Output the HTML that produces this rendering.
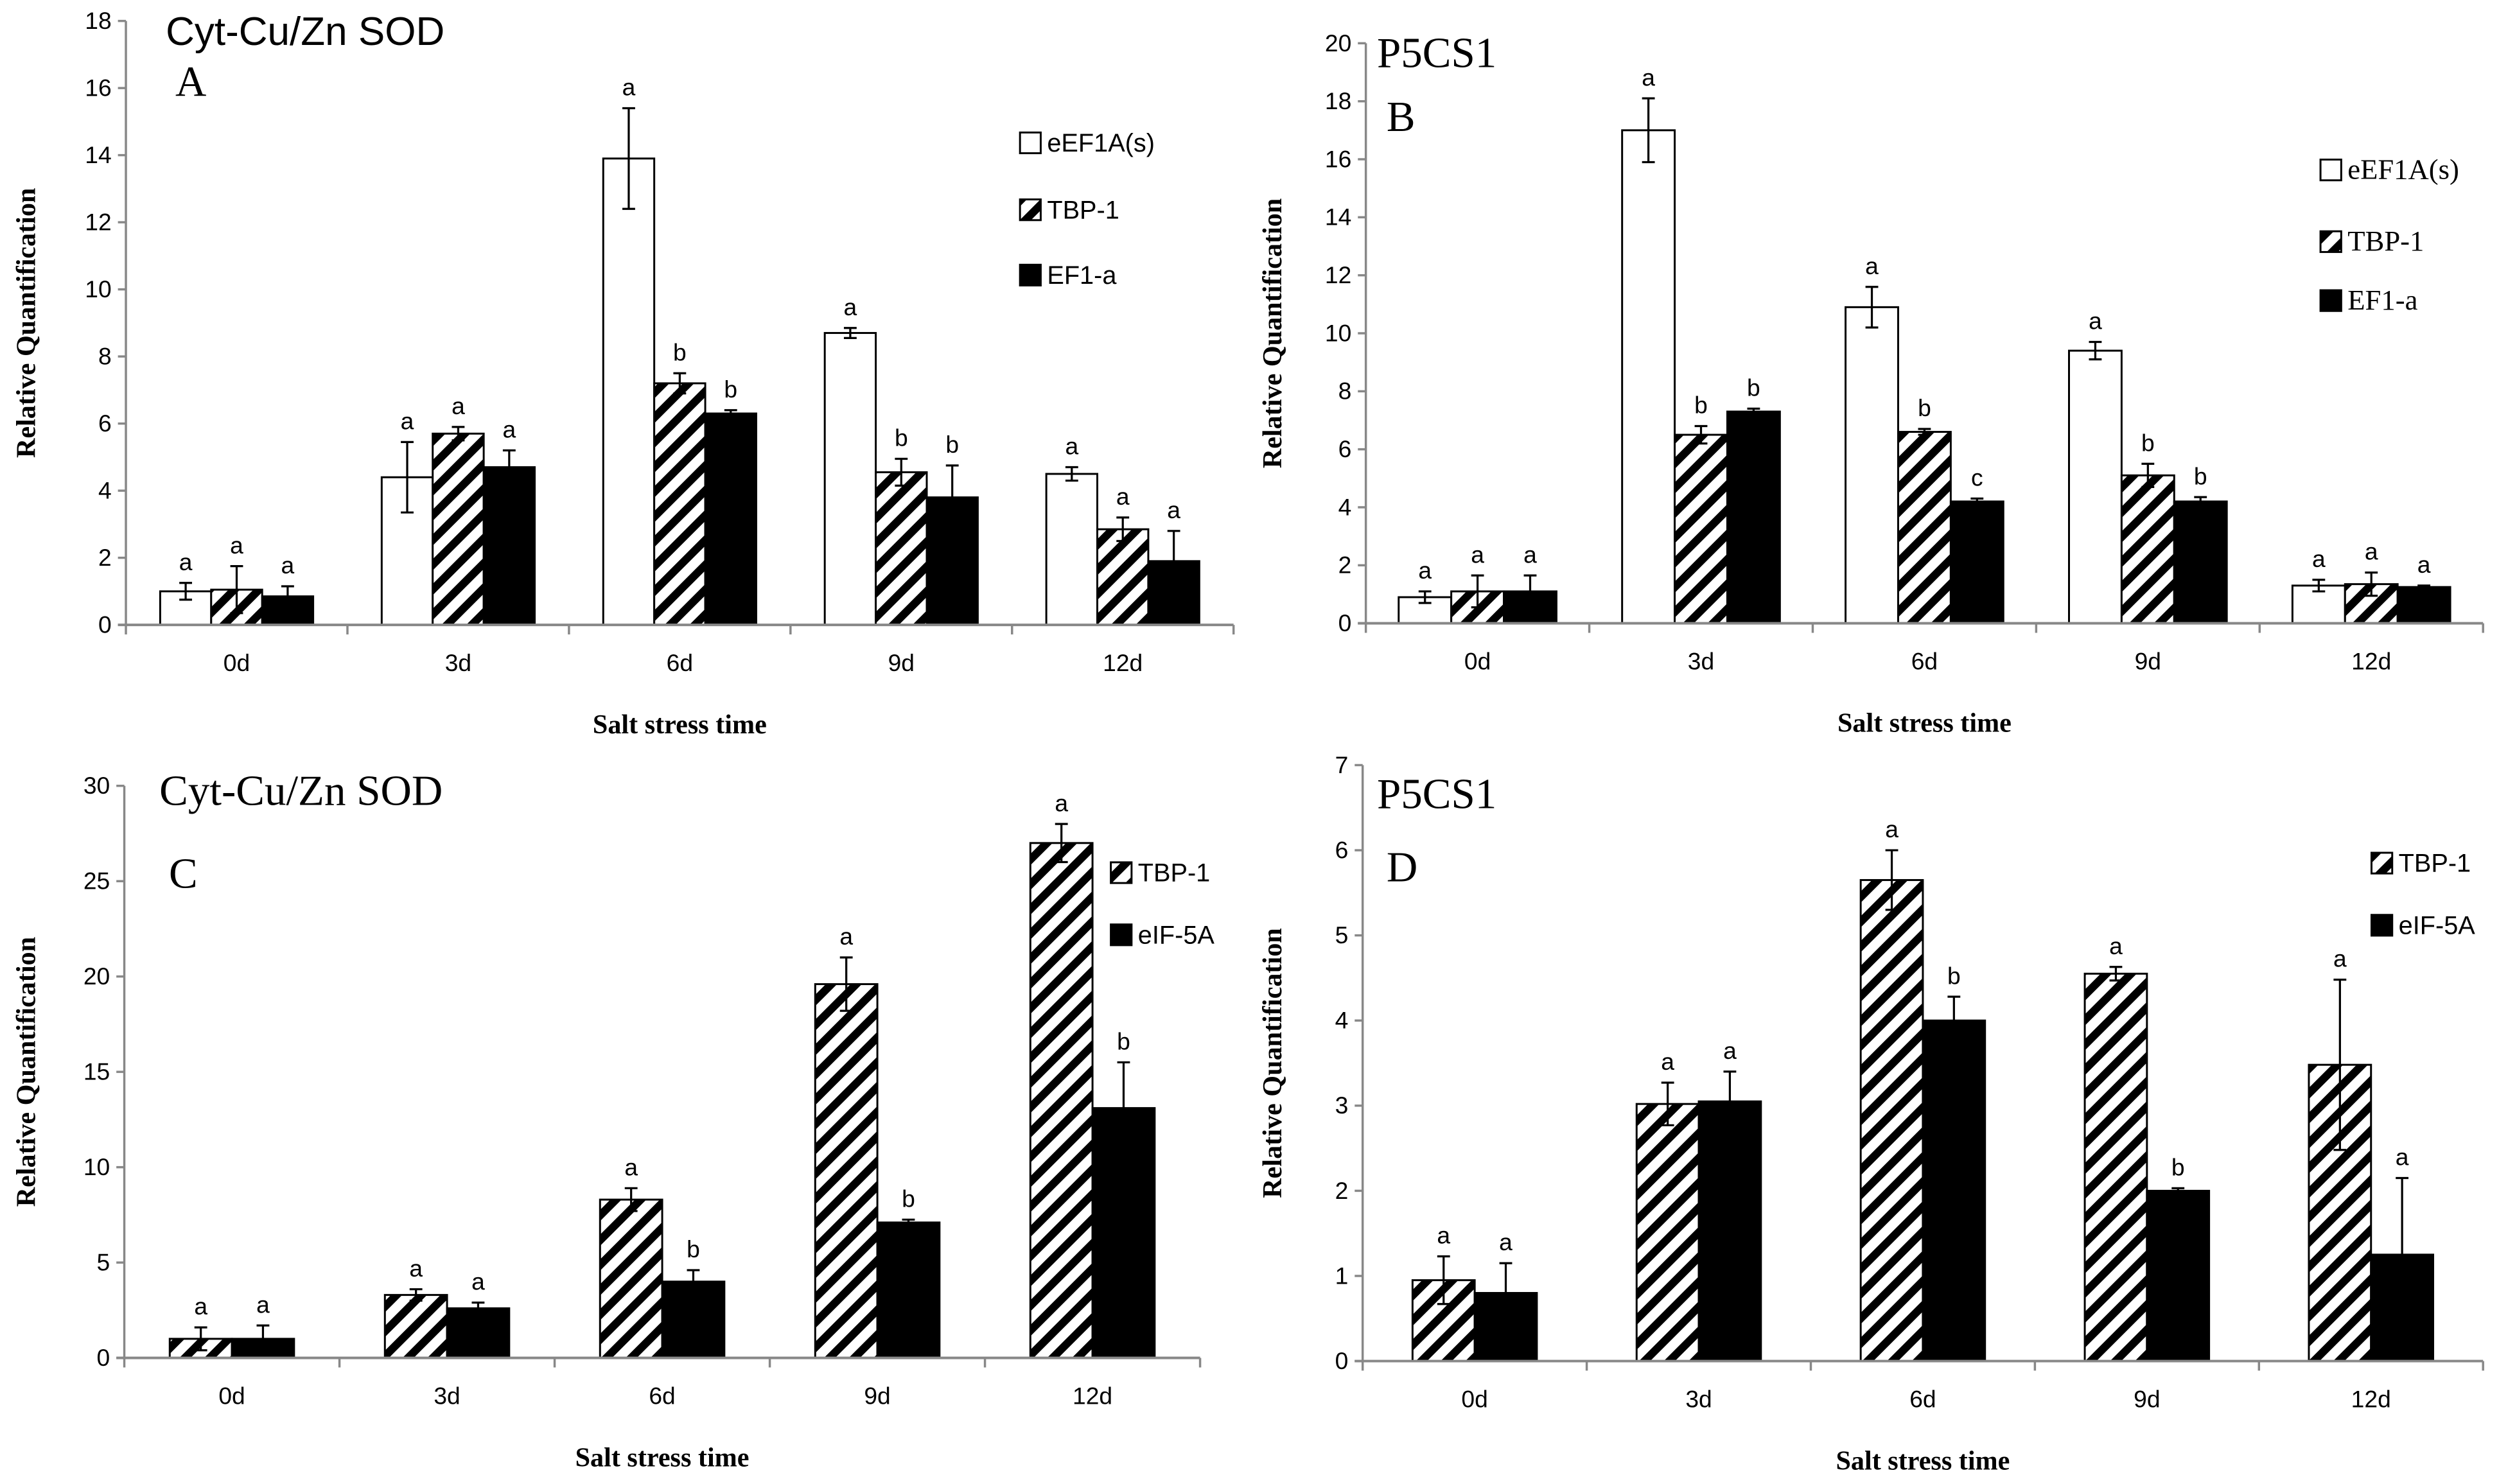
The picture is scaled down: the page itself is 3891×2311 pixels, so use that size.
<!DOCTYPE html>
<html><head><meta charset="utf-8"><style>
html,body{margin:0;padding:0;background:#fff}
svg{display:block}
.tk{font-family:"Liberation Sans",sans-serif;font-size:15px;fill:#000}
.ax{font-family:"Liberation Serif",serif;font-weight:bold;font-size:17px;fill:#000}
.tt{font-family:"Liberation Serif",serif;font-size:27px;fill:#000}
.lg{font-family:"Liberation Sans",sans-serif;font-size:16px;fill:#000}
</style></head><body>
<svg id="chart" width="3891" height="2311" viewBox="0 0 1568 931" xmlns="http://www.w3.org/2000/svg">
<defs>
<pattern id="hatch" patternUnits="userSpaceOnUse" width="11" height="11" patternTransform="rotate(45)">
<rect width="11" height="11" fill="#fff"/><rect width="5" height="11" fill="#000"/>
</pattern>
</defs>
</svg>
<script>
const categories=["0d","3d","6d","9d","12d"];
// Panel A
const aS1=[1.0,4.4,13.9,8.7,4.5], aE1=[0.25,1.05,1.5,0.15,0.2], aL1=["a","a","a","a","a"];
const aS2=[1.05,5.7,7.2,4.55,2.85], aE2=[0.7,0.2,0.3,0.4,0.35], aL2=["a","a","b","b","a"];
const aS3=[0.85,4.7,6.3,3.8,1.9], aE3=[0.3,0.5,0.1,0.95,0.9], aL3=["a","a","b","b","a"];
// Panel B
const bS1=[0.9,17,10.9,9.4,1.3], bE1=[0.2,1.1,0.7,0.3,0.2], bL1=["a","a","a","a","a"];
const bS2=[1.1,6.5,6.6,5.1,1.35], bE2=[0.55,0.3,0.1,0.4,0.4], bL2=["a","b","b","b","a"];
const bS3=[1.1,7.3,4.2,4.2,1.25], bE3=[0.55,0.1,0.1,0.15,0.05], bL3=["a","b","c","b","a"];
// Panel C
const cS1=[1,3.3,8.3,19.6,27], cE1=[0.6,0.3,0.6,1.4,1.0], cL1=["a","a","a","a","a"];
const cS2=[1,2.6,4.0,7.1,13.1], cE2=[0.7,0.3,0.6,0.15,2.4], cL2=["a","a","b","b","b"];
// Panel D
const dS1=[0.95,3.02,5.65,4.55,3.48], dE1=[0.28,0.25,0.35,0.08,1.0], dL1=["a","a","a","a","a"];
const dS2=[0.8,3.05,4.0,2.0,1.25], dE2=[0.35,0.35,0.28,0.03,0.9], dL2=["a","a","b","b","a"];
const ticksA=[0,2,4,6,8,10,12,14,16,18], ticksB=[0,2,4,6,8,10,12,14,16,18,20];
const ticksC=[0,5,10,15,20,25,30], ticksD=[0,1,2,3,4,5,6,7];

const svg=document.getElementById('chart');
const NS="http://www.w3.org/2000/svg";
function mk(tag,at,parent){const e=document.createElementNS(NS,tag);for(const k in at)e.setAttribute(k,at[k]);(parent||svg).appendChild(e);return e;}
function txt(s,at,parent){const e=mk('text',at,parent);e.textContent=s;return e;}
const AX='#888';

function panel(o){
  const g=mk('g',{});
  
  
  const y=v=>o.y0-(v/o.ymax)*(o.y0-o.ytop);
  const cw=(o.x1-o.x0)/categories.length;
  const x=i=>o.x0+cw*(i+0.5);
  const n=o.series.length, bw=o.bw;
  o.series.forEach((s,si)=>{
    s.vals.forEach((v,i)=>{
      const bx=x(i)-n*bw/2+si*bw;
      const r=mk('rect',{x:bx,y:y(v),width:bw,height:o.y0-y(v),fill:s.fill,stroke:'#000','stroke-width':1.2},g);
      
      
      const cx=bx+bw/2, e=s.err[i];
      mk('path',{d:`M${cx},${y(v+e)}V${y(Math.max(0,v-e))}M${cx-4},${y(v+e)}H${cx+4}M${cx-4},${y(Math.max(0,v-e))}H${cx+4}`,stroke:'#000','stroke-width':1.3,fill:'none'},g);
      const l=txt(s.lab[i],{x:cx,y:y(v+e)-8,'text-anchor':'middle',class:'tk'},g);
      
    });
  });
  const ya=mk('line',{x1:o.x0,y1:o.ytop,x2:o.x0,y2:o.y0,stroke:AX,'stroke-width':1.4},g);
  
  o.ticks.forEach(t=>{
    mk('line',{x1:o.x0-5,y1:y(t),x2:o.x0,y2:y(t),stroke:AX,'stroke-width':1.4},g);
    const l=txt(String(t),{x:o.x0-9,y:y(t)+5,'text-anchor':'end',class:'tk'},g);
    
  });
  const xa=mk('line',{x1:o.x0-5,y1:o.y0,x2:o.x1,y2:o.y0,stroke:AX,'stroke-width':1.6},g);
  
  for(let i=0;i<=categories.length;i++) mk('line',{x1:o.x0+cw*i,y1:o.y0,x2:o.x0+cw*i,y2:o.y0+6,stroke:AX,'stroke-width':1.4},g);
  categories.forEach((c,i)=>{
    const l=txt(c,{x:x(i),y:o.y0+29,'text-anchor':'middle',class:'tk'},g);
    
  });
  const yt=txt('Relative  Quantification',{x:0,y:0,transform:`translate(${o.yx},${(o.y0+o.ytop)/2}) rotate(-90)`,'text-anchor':'middle',class:'ax'},g);
  
  const xt=txt('Salt stress time',{x:(o.x0+o.x1)/2,y:o.y0+68,'text-anchor':'middle',class:'ax'},g);
  
  const t1=txt(o.title,{x:o.tx,y:o.ty,class:'tt',style:o.tfont||''},g);
  
  const t2=txt(o.letter,{x:o.tx+6,y:o.ty+o.ld,class:'tt'},g);
  
  o.series.forEach((s,si)=>{
    const ly=o.ly[si];
    const lg=mk('g',{},g);
    
    mk('rect',{x:o.lx,y:ly-12,width:13,height:13,fill:s.fill,stroke:'#000','stroke-width':1.2},lg);
    txt(s.name,{x:o.lx+17,y:ly,class:'lg',style:o.lfont||''},lg);
  });
}
panel({name:'panel-a',x0:79,x1:774,y0:392,ytop:13,ymax:18,ticks:ticksA,bw:32,yx:22,title:'Cyt-Cu/Zn SOD',tx:104,ty:28,ld:32,letter:'A',
  tfont:'font-family:"Liberation Sans",sans-serif;font-size:25px',lx:640,ly:[95,137,178],
  series:[{key:'eef1a',name:'eEF1A(s)',fill:'#fff',vals:aS1,err:aE1,lab:aL1},{key:'tbp1',name:'TBP-1',fill:'url(#hatch)',vals:aS2,err:aE2,lab:aL2},{key:'ef1a',name:'EF1-a',fill:'#000',vals:aS3,err:aE3,lab:aL3}]});
panel({name:'panel-b',x0:857,x1:1558,y0:391,ytop:27,ymax:20,ticks:ticksB,bw:33,yx:804,title:'P5CS1',tx:864,ty:42,ld:40,letter:'B',
  lx:1456,ly:[112,157,194],lfont:'font-family:"Liberation Serif",serif;font-size:18px',
  series:[{key:'eef1a',name:'eEF1A(s)',fill:'#fff',vals:bS1,err:bE1,lab:bL1},{key:'tbp1',name:'TBP-1',fill:'url(#hatch)',vals:bS2,err:bE2,lab:bL2},{key:'ef1a',name:'EF1-a',fill:'#000',vals:bS3,err:bE3,lab:bL3}]});
panel({name:'panel-c',x0:78,x1:753,y0:852,ytop:493,ymax:30,ticks:ticksC,bw:39,yx:22,title:'Cyt-Cu/Zn SOD',tx:100,ty:505,ld:52,letter:'C',
  lx:697,ly:[553,592],
  series:[{key:'tbp1',name:'TBP-1',fill:'url(#hatch)',vals:cS1,err:cE1,lab:cL1},{key:'eif5a',name:'eIF-5A',fill:'#000',vals:cS2,err:cE2,lab:cL2}]});
panel({name:'panel-d',x0:855,x1:1558,y0:854,ytop:480,ymax:7,ticks:ticksD,bw:39,yx:804,title:'P5CS1',tx:864,ty:507,ld:46,letter:'D',
  lx:1488,ly:[547,586],
  series:[{key:'tbp1',name:'TBP-1',fill:'url(#hatch)',vals:dS1,err:dE1,lab:dL1},{key:'eif5a',name:'eIF-5A',fill:'#000',vals:dS2,err:dE2,lab:dL2}]});
</script>
</body></html>
